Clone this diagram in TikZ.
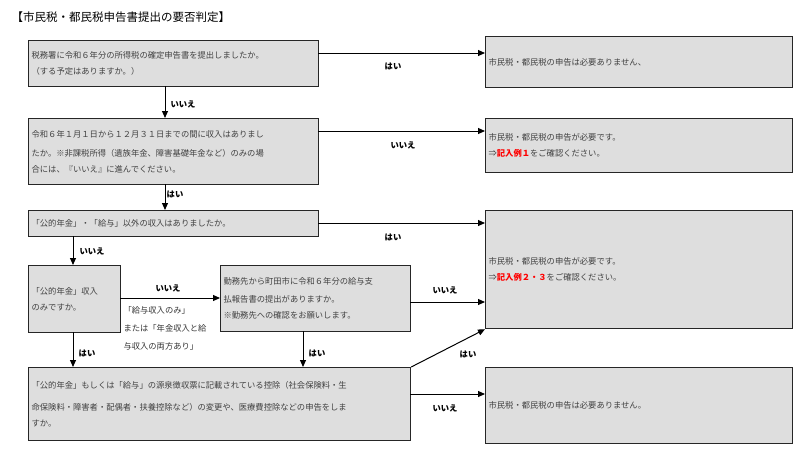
\documentclass[tikz,border=0pt]{standalone}
\usepackage{fontspec}
\setmainfont{Noto Sans CJK JP}
\usetikzlibrary{arrows.meta}
\begin{document}
\begin{tikzpicture}[x=1pt,y=-1pt,
 bx/.style={draw=black!85,line width=1.2pt,fill=black!13,anchor=north west,inner sep=2pt,align=left,font=\fontsize{8.3}{16}\selectfont,text=black!75},
 ar/.style={line width=1pt,-{Triangle[length=7pt,width=6pt]}},
 lb/.style={font=\bfseries\fontsize{8.3}{10}\selectfont}]
\useasboundingbox (0,0) rectangle (800,448);
\node[anchor=west,font=\fontsize{11.5}{13}\selectfont] (title) at (8,17) {【市民税・都民税申告書提出の要否判定】};
\newcommand{\bxat}[6]{\node[bx,minimum width=#4-#2,minimum height=#5-#3,text width=#4-#2-6] (#1) at (#2,#3) {#6};}
\bxat{A}{28}{40}{318}{86}{税務署に令和６年分の所得税の確定申告書を提出しましたか。\\（する予定はありますか。）}
\bxat{B}{28}{118}{318}{184}{\fontsize{8.3}{19}\selectfont 令和６年１月１日から１２月３１日までの間に収入はありまし\\たか。※非課税所得（遺族年金、障害基礎年金など）のみの場\\合には、『いいえ』に進んでください。}
\bxat{C}{28}{210}{318}{236}{「公的年金」・「給与」以外の収入はありましたか。}
\bxat{D}{28}{265}{120}{332}{\fontsize{8.3}{22}\selectfont「公的年金」収入\\のみですか。}
\bxat{E}{220}{265}{410}{331}{\fontsize{8.3}{18}\selectfont 勤務先から町田市に令和６年分の給与支\\払報告書の提出がありますか。\\※勤務先への確認をお願いします。}
\bxat{F}{28}{367}{410}{440}{\fontsize{8.3}{22}\selectfont「公的年金」もしくは「給与」の源泉徴収票に記載されている控除（社会保険料・生\\命保険料・障害者・配偶者・扶養控除など）の変更や、医療費控除などの申告をしま\\すか。}
\bxat{R1}{485}{36}{792}{87}{市民税・都民税の申告は必要ありません、}
\bxat{R2}{485}{118}{792}{172}{\fontsize{8.3}{22}\selectfont 市民税・都民税の申告が必要です。\\⇒{\color{red}\bfseries 記入例１}をご確認ください。}
\bxat{R3}{485}{210}{792}{328}{\fontsize{8.3}{22}\selectfont 市民税・都民税の申告が必要です。\\⇒{\color{red}\bfseries 記入例２・３}をご確認ください。}
\bxat{R4}{485}{367}{792}{443}{市民税・都民税の申告は必要ありません。}
\coordinate (a1) at (318,53); \coordinate (r1) at (485,53);
\draw[ar] (a1) -- (r1);
\coordinate (b1) at (318,131); \coordinate (r2) at (485,131);
\draw[ar] (b1) -- (r2);
\coordinate (c1) at (318,223); \coordinate (r3a) at (485,223);
\draw[ar] (c1) -- (r3a);
\coordinate (e1) at (410,302); \coordinate (r3b) at (485,302);
\draw[ar] (e1) -- (r3b);
\draw[ar] (F.north east) -- (R3.south west);
\coordinate (f1) at (410,394); \coordinate (r4) at (485,394);
\draw[ar] (f1) -- (r4);
\draw[ar] (165,86) -- (165,118);
\draw[ar] (165,184) -- (165,210);
\draw[ar] (73,236) -- (73,265);
\draw[ar] (73,332) -- (73,367);
\draw[ar] (303,331) -- (303,367);
\draw[ar] (120,298) -- (220,298);
\node[lb] (l1) at (393,66) {はい};
\node[lb] (l2) at (403,145) {いいえ};
\node[lb] (l3) at (393,237) {はい};
\node[lb] (l4) at (445,290) {いいえ};
\node[lb] (l5) at (468,354) {はい};
\node[lb] (l6) at (445,408) {いいえ};
\node[lb] (l7) at (183,104) {いいえ};
\node[lb] (l8) at (175,194) {はい};
\node[lb] (l9) at (92,251) {いいえ};
\node[lb] (l10) at (87,353) {はい};
\node[lb] (l11) at (317,353) {はい};
\node[lb] (l12) at (168,288) {いいえ};
\node[anchor=north west,align=left,font=\fontsize{8.3}{18}\selectfont,text=black!80] (note) at (120,303) {「給与収入のみ」\\または「年金収入と給\\与収入の両方あり」};
\end{tikzpicture}
\end{document}
